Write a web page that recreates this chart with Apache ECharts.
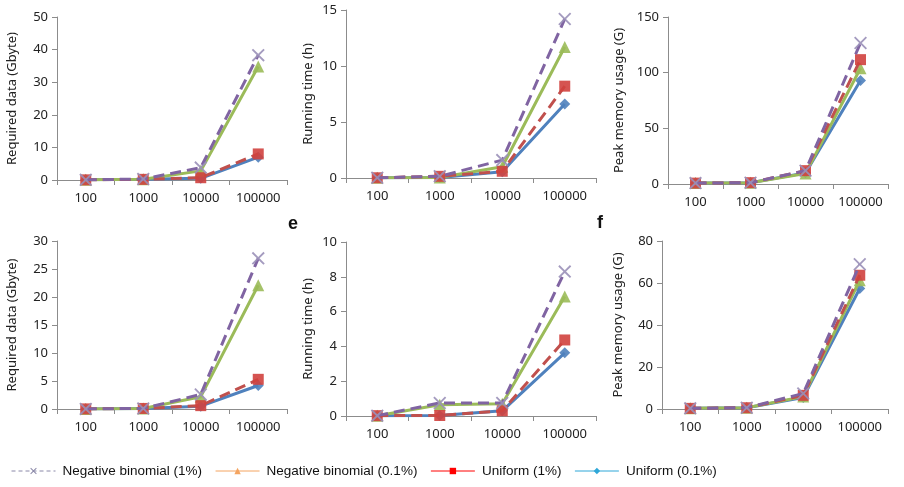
<!DOCTYPE html>
<html>
<head>
<meta charset="utf-8">
<script src="https://cdn.jsdelivr.net/npm/echarts@6/dist/echarts.min.js"></script>
<style>
html,body{margin:0;padding:0;background:#fff;}
#chart{width:904px;height:487px;}
</style>
</head>
<body>
<div id="chart"></div>
<script>
// ---- data ----
var categories = ['100', '1000', '10000', '100000'];
var seriesNames = ['Negative binomial (1%)', 'Negative binomial (0.1%)', 'Uniform (1%)', 'Uniform (0.1%)'];

// Panel a: required data (top)
var reqTop_nb1  = [0.05, 0.3, 3.8, 38.3];
var reqTop_nb01 = [0.05, 0.25, 2.8, 34.8];
var reqTop_u1   = [0.05, 0.2, 0.7, 8.0];
var reqTop_u01  = [0.05, 0.2, 0.5, 7.0];

// Panel b: running time (top)
var timeTop_nb1  = [0.02, 0.15, 1.6, 14.2];
var timeTop_nb01 = [0.02, 0.05, 1.0, 11.7];
var timeTop_u1   = [0.02, 0.15, 0.6, 8.2];
var timeTop_u01  = [0.02, 0.05, 0.55, 6.6];

// Panel c: peak memory usage (top)
var memTop_nb1  = [0.8, 1.2, 12.0, 126.7];
var memTop_nb01 = [0.8, 1.2, 9.5, 104.0];
var memTop_u1   = [0.8, 1.2, 12.0, 111.7];
var memTop_u01  = [0.8, 1.2, 10.0, 93.0];

// Panel d: required data (bottom)
var reqBot_nb1  = [0.02, 0.1, 2.6, 26.9];
var reqBot_nb01 = [0.02, 0.1, 2.2, 22.1];
var reqBot_u1   = [0.02, 0.1, 0.6, 5.3];
var reqBot_u01  = [0.02, 0.1, 0.5, 4.2];

// Panel e: running time (bottom)
var timeBot_nb1  = [0.02, 0.75, 0.75, 8.3];
var timeBot_nb01 = [0.02, 0.65, 0.7, 6.87];
var timeBot_u1   = [0.02, 0.03, 0.3, 4.37];
var timeBot_u01  = [0.02, 0.03, 0.3, 3.63];

// Panel f: peak memory usage (bottom)
var memBot_nb1  = [0.3, 0.6, 7.4, 68.9];
var memBot_nb01 = [0.3, 0.6, 5.9, 61.3];
var memBot_u1   = [0.3, 0.6, 6.5, 63.7];
var memBot_u01  = [0.3, 0.6, 5.5, 57.4];

var axisTitles = ['Required data (Gbyte)', 'Running time (h)', 'Peak memory usage (G)',
                  'Required data (Gbyte)', 'Running time (h)', 'Peak memory usage (G)'];
var yMax = [50, 15, 150, 30, 10, 80];
var yStep = [10, 5, 50, 5, 2, 20];

var panels = [
  [reqTop_nb1, reqTop_nb01, reqTop_u1, reqTop_u01],
  [timeTop_nb1, timeTop_nb01, timeTop_u1, timeTop_u01],
  [memTop_nb1, memTop_nb01, memTop_u1, memTop_u01],
  [reqBot_nb1, reqBot_nb01, reqBot_u1, reqBot_u01],
  [timeBot_nb1, timeBot_nb01, timeBot_u1, timeBot_u01],
  [memBot_nb1, memBot_nb01, memBot_u1, memBot_u01]
];

// ---- layout / style ----
var grids = [
  {left: 57,  top: 17,  width: 230, height: 163},
  {left: 346, top: 10,  width: 250, height: 168},
  {left: 668, top: 17,  width: 220, height: 167},
  {left: 57,  top: 241, width: 230, height: 168},
  {left: 346, top: 242, width: 250, height: 174},
  {left: 662, top: 241, width: 226, height: 168}
];
var nameGaps = [38, 31, 42, 38, 31, 37];

var xSym = 'path://M0,1 L1,0 L5,4 L9,0 L10,1 L6,5 L10,9 L9,10 L5,6 L1,10 L0,9 L4,5 Z';
var styles = [
  {color: '#8064A2', symColor: '#9a90b8', symbol: xSym, size: 13, type: [11, 6]},
  {color: '#9BBB59', symColor: '#9BBB59', symbol: 'triangle', size: 12, type: 'solid'},
  {color: '#C0504D', symColor: '#D0413E', symbol: 'rect', size: 11, type: [11, 6]},
  {color: '#4F81BD', symColor: '#4F81BD', symbol: 'diamond', size: 11, type: 'solid'}
];
var drawOrder = [3, 1, 2, 0];

var axisColor = '#8c8c8c';
var font = "'Noto Sans', 'DejaVu Sans', sans-serif";

var xAxes = [], yAxes = [], series = [];
grids.forEach(function (g, i) {
  xAxes.push({
    type: 'category', gridIndex: i, data: categories, boundaryGap: true,
    axisLine: {lineStyle: {color: axisColor, width: 1}},
    axisTick: {show: true, length: 5, lineStyle: {color: axisColor}},
    axisLabel: {color: '#222', fontSize: 13, fontFamily: font, margin: 12, interval: 0}
  });
  yAxes.push({
    type: 'value', gridIndex: i, min: 0, max: yMax[i], interval: yStep[i],
    name: axisTitles[i], nameLocation: 'middle', nameGap: nameGaps[i],
    nameTextStyle: {color: '#222', fontSize: 13, fontFamily: font},
    axisLine: {show: true, lineStyle: {color: axisColor, width: 1}},
    axisTick: {show: true, length: 5, lineStyle: {color: axisColor}},
    splitLine: {show: false},
    axisLabel: {color: '#222', fontSize: 13, fontFamily: font, margin: 9}
  });
  drawOrder.forEach(function (k, zi) {
    var s = styles[k];
    series.push({
      name: seriesNames[k], type: 'line', xAxisIndex: i, yAxisIndex: i,
      data: panels[i][k], z: 2 + zi,
      symbol: s.symbol, symbolSize: s.size, showSymbol: true,
      lineStyle: {color: s.color, width: 3, type: s.type},
      itemStyle: {color: s.symColor, opacity: 0.9},
      emphasis: {disabled: true},
      animation: false
    });
  });
});

var legendStyles = [
  {color: '#8a88a8', type: [4, 3]},
  {color: '#F4A460', type: 'solid'},
  {color: '#FF0000', type: 'solid'},
  {color: '#2FA7D8', type: 'solid'}
];

var option = {
  backgroundColor: '#ffffff',
  animation: false,
  title: [
    {text: 'e', left: 283, top: 210, textStyle: {fontSize: 18, fontWeight: 'bold', color: '#111', fontFamily: "'Liberation Sans', Arial, sans-serif"}},
    {text: 'f', left: 592, top: 209, textStyle: {fontSize: 18, fontWeight: 'bold', color: '#111', fontFamily: "'Liberation Sans', Arial, sans-serif"}}
  ],
  legend: {
    left: 6, top: 459, itemWidth: 44, itemHeight: 8, itemGap: 13,
    selectedMode: false,
    textStyle: {fontSize: 13.5, color: '#111', fontFamily: "'Liberation Sans Narrow', 'Liberation Sans', Arial, sans-serif", padding: [0, 0, 0, 2]},
    data: seriesNames.map(function (n, k) {
      var ls = legendStyles[k];
      return {name: n,
              itemStyle: {color: ls.color, opacity: 1},
              lineStyle: {color: ls.color, width: 1, type: ls.type}};
    })
  },
  grid: grids,
  xAxis: xAxes,
  yAxis: yAxes,
  series: series
};

var chart = echarts.init(document.getElementById('chart'), null, {renderer: 'canvas'});
chart.setOption(option);
</script>
</body>
</html>
